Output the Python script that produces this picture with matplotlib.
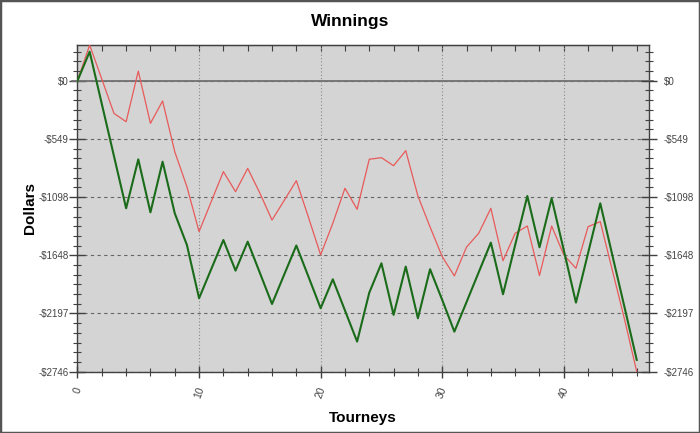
import matplotlib
matplotlib.use('Agg')
import matplotlib.pyplot as plt
from matplotlib.ticker import MultipleLocator, AutoMinorLocator
from matplotlib.patches import Rectangle

plt.rcParams['font.family'] = ['Liberation Sans', 'DejaVu Sans']

# tourney index 0..46
tourneys = list(range(47))

red_series = [0, 337, 16, -308, -387, 91, -402, -191, -670, -1000,
              -1424, -1141, -858, -1047, -827, -1060, -1315, -1130, -943, -1290,
              -1644, -1345, -1015, -1213, -741, -726, -802, -660, -1088, -1380,
              -1660, -1842, -1570, -1440, -1204, -1698, -1440, -1371, -1839, -1371,
              -1644, -1770, -1377, -1330, -1792, -2254, -2746]

green_series = [0, 274, -219, -711, -1204, -742, -1242, -764, -1251, -1550,
                -2053, -1778, -1503, -1792, -1519, -1813, -2107, -1830, -1555, -1850,
                -2147, -1874, -2168, -2462, -2000, -1723, -2210, -1754, -2242, -1779,
                -2069, -2368, -2089, -1808, -1528, -2015, -1550, -1088, -1572, -1110,
                -1600, -2094, -1625, -1157, -1650, -2140, -2635]

y_ticks = [0, -549.2, -1098.4, -1647.6, -2196.8, -2746]
y_labels = ['$0', '-$549', '-$1098', '-$1648', '-$2197', '-$2746']
x_ticks = [0, 10, 20, 30, 40]

fig = plt.figure(figsize=(7, 4.33), dpi=100)
fig.patch.set_facecolor('white')
ax = fig.add_axes([0.1107, 0.1416, 0.8163, 0.7544])
ax.set_facecolor('#d4d4d4')

ax.plot(tourneys, red_series, color='#e85a5a', lw=0.9, zorder=4)
ax.plot(tourneys, green_series, color='#1a6b1a', lw=1.5, zorder=5)

ax.set_xlim(0, 47)
ax.set_ylim(-2746, 337)

# zero line
ax.axhline(0, xmin=-0.01, xmax=1.008, color='#707070', lw=1.3, clip_on=False, zorder=3)

ax.set_yticks(y_ticks)
ax.set_yticklabels(y_labels)
ax.yaxis.set_minor_locator(AutoMinorLocator(6))
ax.set_xticks(x_ticks)
ax.set_xticklabels([str(t) for t in x_ticks], rotation=70, ha='center', va='top')
ax.xaxis.set_minor_locator(MultipleLocator(2))

ax.grid(axis='y', which='major', color='#666666', ls=(0, (3, 3)), lw=0.8)
ax.grid(axis='x', which='major', color='#888888', ls=(0, (1, 2)), lw=0.8)
ax.set_axisbelow(True)

for s in ax.spines.values():
    s.set_color('#404040')
    s.set_linewidth(1)

ax.tick_params(axis='y', which='major', direction='inout', length=11, width=1,
               color='#404040', labelsize=7, labelcolor='#444444', pad=1)
ax.tick_params(axis='y', which='minor', direction='inout', length=6, width=0.8, color='#404040')
ax.tick_params(axis='x', which='major', direction='inout', length=8, width=1,
               color='#404040', labelsize=7.5, labelcolor='#444444', pad=6, top=False)
ax.tick_params(axis='x', which='minor', direction='inout', length=6, width=0.8,
               color='#404040', top=False)

# top ticks pointing inward
top = ax.secondary_xaxis('top')
top.set_xticks(x_ticks)
top.xaxis.set_minor_locator(MultipleLocator(2))
top.tick_params(which='both', direction='in', length=4, width=0.8, color='#404040',
                labeltop=False)
top.spines['top'].set_color('#404040')

# right side axis with same labels
ax2 = ax.twinx()
ax2.set_ylim(ax.get_ylim())
ax2.set_yticks(y_ticks)
ax2.set_yticklabels(y_labels)
ax2.yaxis.set_minor_locator(AutoMinorLocator(6))
ax2.tick_params(axis='y', which='major', direction='inout', length=11, width=1,
                color='#404040', labelsize=7, labelcolor='#444444', pad=5)
ax2.tick_params(axis='y', which='minor', direction='inout', length=6, width=0.8, color='#404040')
for s in ax2.spines.values():
    s.set_visible(False)

ax.set_xlabel('Tourneys', fontsize=11, fontweight='bold', labelpad=8)
ax.set_ylabel('Dollars', fontsize=11, fontweight='bold', labelpad=1)
fig.text(0.5, 0.95, 'Winnings', ha='center', va='center', fontsize=12.5, fontweight='bold')

# outer frame
fig.patches.append(Rectangle((0, 0), 1, 1, transform=fig.transFigure, fill=False,
                             edgecolor='#555555', lw=2.5))

fig.savefig('out.png', dpi=100)
